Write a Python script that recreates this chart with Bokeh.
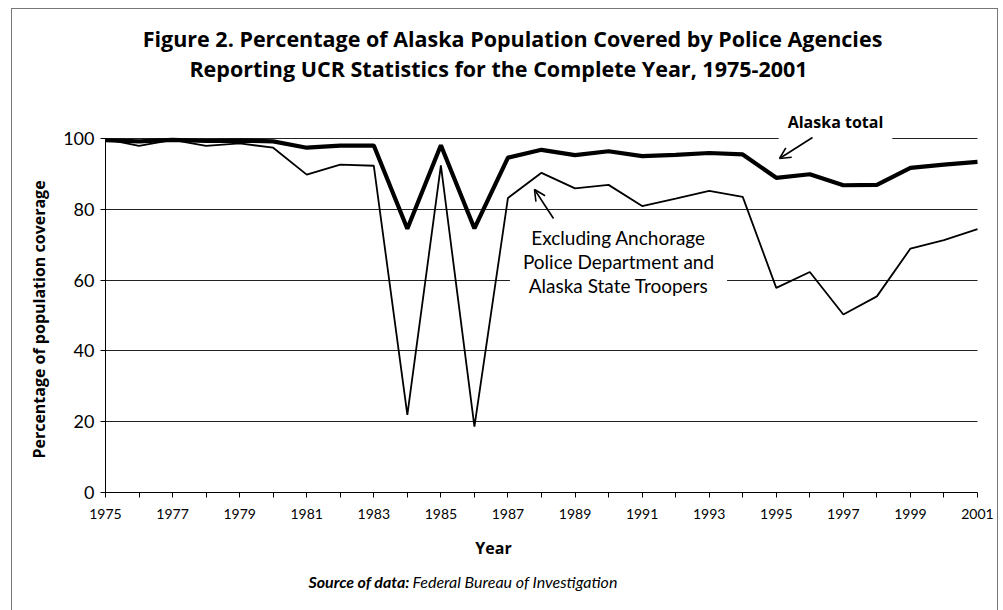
import math
from bokeh.plotting import figure
from bokeh.models import Range1d, FixedTicker, Label, Arrow, OpenHead, ColumnDataSource
from bokeh.embed import file_html
from bokeh.resources import INLINE

# ---- data ----
years = list(range(1975, 2002))
alaska_total = [99.5, 99.2, 99.6, 99.3, 99.4, 99.2, 97.4, 98.0, 98.0, 74.5,
                98.1, 74.6, 94.6, 96.8, 95.3, 96.4, 95.0, 95.4, 95.9, 95.5,
                88.9, 89.9, 86.8, 86.9, 91.7, 92.6, 93.4]
excluding = [99.8, 97.9, 99.6, 97.9, 98.6, 97.4, 89.8, 92.6, 92.3, 21.9,
             92.4, 18.6, 83.2, 90.3, 85.9, 86.9, 80.9, 83.0, 85.2, 83.5,
             57.8, 62.3, 50.3, 55.4, 68.9, 71.3, 74.4]
x_label_years = list(range(1975, 2002, 2))
x_minor_years = list(range(1976, 2001, 2))
y_ticks = [0, 20, 40, 60, 80, 100]
grid_ticks = [20, 40, 60, 80, 100]

title_1 = "Figure 2. Percentage of Alaska Population Covered by Police Agencies"
title_2 = "Reporting UCR Statistics for the Complete Year, 1975-2001"
y_title = "Percentage of population coverage"
x_title = "Year"
label_total = "Alaska total"
label_excl = "Excluding Anchorage\nPolice Department and\nAlaska State Troopers"
source_head = "Source of data:"
source_body = "Federal Bureau of Investigation"

FONT = "Lato"
BOLD_FONT = "Open Sans"

# ---- layout geometry (page pixels) ----
OX, OY = 12, 9                 # where the figure sits on the page
W, H = 985, 601
PX0, PX1 = 105, 977            # page x of first / last year
PY0, PY100 = 492, 138          # page y of 0 and 100
xs = (PX1 - PX0) / (years[-1] - years[0])
ys = (PY0 - PY100) / 100.0

def dx(px):
    return years[0] + (px - PX0) / xs

def dy(py):
    return (PY0 - py) / ys

src = ColumnDataSource(dict(year=years, total=alaska_total, excl=excluding))

p = figure(width=W, height=H,
           x_range=Range1d(dx(OX), dx(OX + W)), y_range=Range1d(dy(OY + H), dy(OY)),
           output_backend="svg", toolbar_location=None,
           min_border_left=0, min_border_right=0, min_border_top=0, min_border_bottom=0)
p.styles = {"margin-left": f"{OX}px", "margin-top": f"{OY}px",
            "outline": "1px solid #777777"}
p.outline_line_color = None
p.background_fill_color = "white"
p.border_fill_color = "white"

p.xgrid.visible = False
p.ygrid.ticker = FixedTicker(ticks=grid_ticks)
p.ygrid.cross_bounds = (years[0], years[-1])
p.ygrid.grid_line_color = "#222222"
p.ygrid.grid_line_width = 1

# y axis
ya = p.yaxis[0]
ya.fixed_location = years[0]
ya.bounds = (y_ticks[0], y_ticks[-1])
ya.ticker = FixedTicker(ticks=y_ticks)
ya.major_tick_out = 5
ya.major_tick_in = 0
ya.minor_tick_out = 0
ya.major_label_standoff = 6
ya.major_label_text_font = FONT
ya.major_label_text_font_size = "18px"
ya.major_label_text_color = "black"
ya.axis_line_color = "black"
ya.major_tick_line_color = "black"

# x axis
xa = p.xaxis[0]
xa.fixed_location = 0
xa.bounds = (years[0], years[-1])
xa.ticker = FixedTicker(ticks=x_label_years, minor_ticks=x_minor_years)
xa.major_tick_out = 5
xa.major_tick_in = 0
xa.minor_tick_out = 5
xa.minor_tick_in = 0
xa.major_label_standoff = 11
xa.major_label_text_font = FONT
xa.major_label_text_font_size = "14px"
xa.major_label_text_color = "black"
xa.axis_line_color = "black"
xa.major_tick_line_color = "black"
xa.minor_tick_line_color = "black"

# lines
p.line("year", "excl", source=src, line_color="black", line_width=1.8)
p.line("year", "total", source=src, line_color="black", line_width=4.2)

def plabel(text, px, py, size, style="normal", align="center", font=FONT, **kw):
    lab = Label(x=dx(px), y=dy(py), text=text,
                text_font=font, text_font_size=size, text_font_style=style,
                text_align=align, text_baseline="middle", text_color="black", **kw)
    p.add_layout(lab)
    return lab

plabel(title_1, 512, 38, "21.5px", "bold", font=BOLD_FONT)
plabel(title_2, 498, 68, "21.5px", "bold", font=BOLD_FONT)
plabel(y_title, 38, 319, "16px", "bold", angle=math.pi / 2, font=BOLD_FONT)
plabel(x_title, 493, 547, "16px", "bold", font=BOLD_FONT)
plabel(source_head, 308, 581, "16px", "bold italic", "left")
plabel(source_body, 412, 581, "16px", "italic", "left")

plabel(label_total, 835, 121, "16px", "bold", font=BOLD_FONT,
       background_fill_color="white", padding=9)
plabel(label_excl, 618, 261, "19px", "normal", background_fill_color="white", padding=13,
       text_line_height=1.05)

# arrows
p.add_layout(Arrow(x_start=dx(812), y_start=dy(137), x_end=dx(779), y_end=dy(158),
                   line_color="black", line_width=1.6,
                   end=OpenHead(size=11, line_width=1.6, line_color="black")))
p.add_layout(Arrow(x_start=dx(553), y_start=dy(218), x_end=dx(534), y_end=dy(189),
                   line_color="black", line_width=1.6,
                   end=OpenHead(size=11, line_width=1.6, line_color="black")))

open("out.html", "w").write(file_html(p, INLINE))
